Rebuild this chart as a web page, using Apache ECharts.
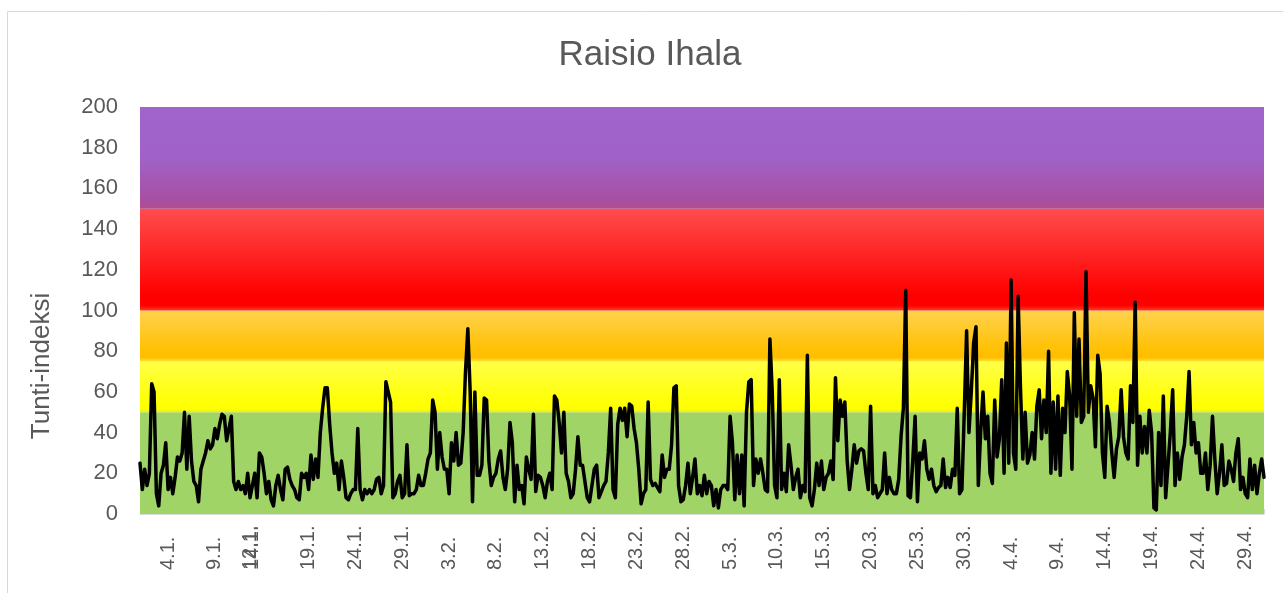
<!DOCTYPE html>
<html>
<head>
<meta charset="utf-8">
<script src="https://cdn.jsdelivr.net/npm/echarts/dist/echarts.min.js"></script>
<style>
  html, body { margin: 0; padding: 0; background: #fff; }
  #chart { width: 1283px; height: 593px; }
</style>
</head>
<body>
<div id="chart"></div>
<script>
// hourly index sampled every 6 h, 1.1. 00:00 -> 1.5. 00:00
const jan = [
  25,12,22,14,20,64,60,10,4,20, 24,35,12,18,10,18,28,26,30,50,
  22,48,26,16,14,6,22,26,30,36, 32,34,42,37,44,49,48,36,42,48,
  16,12,16,12,14,10,20,8,14,20, 8,30,28,20,10,16,7,4,14,19,
  12,7,22,23,17,14,12,8,7,20, 18,20,12,29,17,27,18,40,52,62,
  62,44,30,20,25,12,26,18,8,7, 10,12,12,42,12,7,12,10,12,10,
  12,17,18,10,14,65,60,55,8,10, 16,19,8,10,34,9,10,10,12,19,
  14,14,20,27
];
const feb = [
  30,56,50,22,40,28,
  22,22,10,35,26,40,24,25,40,70, 91,60,6,60,19,19,24,57,56,26,
  14,18,20,27,31,18,12,22,45,35, 6,24,12,14,5,28,22,17,49,11,
  19,18,14,8,16,20,12,58,56,45, 30,50,20,16,8,10,22,38,24,24,
  16,8,6,14,22,24,8,11,14,16, 30,52,12,8,44,52,46,52,38,54,
  53,42,35,22,5,10,12,55,17,14, 15,13,11,29,18,22,22,34,62,63,
  14,6,7,14,25,10
];
const mar = [
  18,27,10,14,
  9,19,10,16,14,4,12,3,12,14, 14,12,48,35,7,29,10,29,4,50,
  65,66,14,27,20,27,20,12,11,86, 60,14,8,66,12,20,11,34,24,12,
  18,22,8,14,11,78,8,4,12,25, 14,26,12,18,20,26,17,67,36,56,
  48,55,26,12,22,34,25,31,32,31, 20,12,53,10,14,8,10,12,30,10,
  18,12,10,10,17,38,52,110,9,8, 26,48,6,30,27,36,22,17,22,14,
  11,13,14,27,13,18,13,22,19,52, 10,12,50,90,40,60,84,92,14,40
];
const apr = [
  60,37,48,20,15,56,28,37,66,20, 84,25,115,30,22,107,62,27,50,25,
  29,40,27,53,61,37,56,40,80,20, 55,22,58,19,52,40,70,58,22,99,
  48,86,45,48,119,50,63,57,33,78, 69,30,18,53,45,30,18,32,38,61,
  38,30,27,63,45,104,24,48,30,43, 30,51,40,3,2,40,14,58,8,24,
  40,61,14,30,17,28,34,48,70,34, 45,30,35,20,20,30,12,24,48,27,
  10,20,34,14,15,26,22,16,30,37, 12,18,10,8,27,12,24,10,20,27
];
const may = [18];

const tickLabels = ['4.1.','9.1.','12.1.','14.1.','19.1.','24.1.','29.1.','3.2.','8.2.','13.2.',
  '18.2.','23.2.','28.2.','5.3.','10.3.','15.3.','20.3.','25.3.','30.3.','4.4.',
  '9.4.','14.4.','19.4.','24.4.','29.4.'];
const tickIndex = [12,32,47,48,72,92,112,132,152,172,192,212,232,252,272,292,312,332,352,372,392,412,432,452,472];

// index classes: limits and colours (top -> bottom of each band)
const bandLimits = [0, 50, 75, 100, 150, 200];
const bandStops = [
  [[0, '#A0D466'], [1, '#A0D466']],
  [[0, '#FFFF48'], [0.75, '#FFFF08'], [0.94, '#FFFF00'], [1, '#E4EA2C']],
  [[0, '#FFD24E'], [0.8, '#FFC000'], [0.92, '#FFBE00'], [1, '#FFE030']],
  [[0, '#FF4D4D'], [0.85, '#FF0000'], [0.95, '#FF0000'], [1, '#FF3A22']],
  [[0, '#A064CC'], [0.5, '#A062C8'], [0.94, '#A84E9E'], [1, '#B84C8C']]
];

const values = jan.concat(feb, mar, apr, may);
const start = Date.UTC(2019, 0, 1);
const categories = values.map((v, i) => {
  const d = new Date(start + i * 6 * 3600 * 1000);
  return d.getUTCDate() + '.' + (d.getUTCMonth() + 1) + '. ' + String(d.getUTCHours()).padStart(2, '0');
});

const bands = bandStops.map((stops, k) => [
  {
    yAxis: bandLimits[k],
    itemStyle: {
      color: {
        type: 'linear', x: 0, y: 0, x2: 0, y2: 1,
        colorStops: stops.map(s => ({ offset: s[0], color: s[1] }))
      }
    }
  },
  { yAxis: bandLimits[k + 1] }
]);

const font = "'Liberation Sans', Arial, sans-serif";
const chart = echarts.init(document.getElementById('chart'));

chart.setOption({
  animation: false,
  backgroundColor: '#fff',
  title: {
    text: 'Raisio Ihala',
    left: 650,
    top: 38,
    textAlign: 'center',
    padding: 0,
    textStyle: { color: '#595959', fontSize: 35, fontWeight: 'normal', fontFamily: font }
  },
  graphic: [
    {
      type: 'rect',
      shape: { x: 7.5, y: 11.5, width: 1300, height: 600 },
      style: { fill: 'none', stroke: '#D9D9D9', lineWidth: 1 },
      silent: true
    },
    {
      type: 'text',
      x: 42,
      y: 366,
      rotation: Math.PI / 2,
      style: {
        text: 'Tunti-indeksi',
        fill: '#595959',
        font: '26px ' + font,
        align: 'center',
        verticalAlign: 'middle'
      },
      silent: true
    }
  ],
  grid: { left: 140, right: 19, top: 107, bottom: 79, outerBoundsMode: 'none' },
  xAxis: {
    type: 'category',
    data: categories,
    boundaryGap: false,
    axisLine: { lineStyle: { color: '#D9D9D9', width: 1 } },
    axisTick: { show: true, interval: 3, inside: true, length: 5, lineStyle: { color: '#D9D9D9' } },
    axisLabel: {
      interval: (idx) => tickIndex.includes(idx),
      formatter: (val, idx) => tickLabels[tickIndex.indexOf(idx)],
      rotate: 90,
      align: 'left',
      verticalAlign: 'middle',
      margin: 56,
      color: '#595959',
      fontSize: 20,
      fontFamily: font
    },
    splitLine: { show: false }
  },
  yAxis: {
    type: 'value',
    min: 0,
    max: 200,
    interval: 20,
    axisLine: { show: false },
    axisTick: { show: false },
    splitLine: { show: false },
    axisLabel: { color: '#595959', fontSize: 22, fontFamily: font, margin: 22 }
  },
  series: [
    {
      type: 'line',
      data: values,
      symbol: 'none',
      lineStyle: { opacity: 0, width: 0 },
      silent: true,
      z: 1,
      markArea: { silent: true, label: { show: false }, data: bands }
    },
    {
      type: 'line',
      data: values,
      symbol: 'none',
      z: 3,
      lineStyle: { color: '#000', width: 3.5, join: 'round', cap: 'round' }
    }
  ]
});
</script>
</body>
</html>
